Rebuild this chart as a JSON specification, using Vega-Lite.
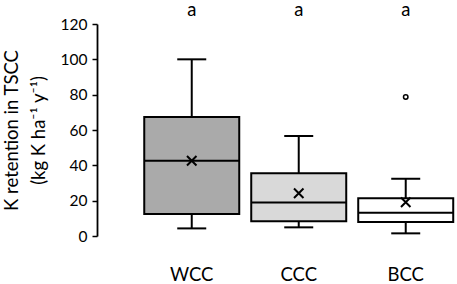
{
  "$schema": "https://vega.github.io/schema/vega-lite/v6.json",
  "width": 358,
  "height": 212,
  "autosize": "none",
  "padding": {"left": 97, "top": 24, "right": 2, "bottom": 48},
  "background": "white",
  "config": {
    "view": {"stroke": null},
    "font": "Lato",
    "axis": {"grid": false},
    "axisY": {"labelOverlap": false, "tickCount": 7}
  },
  "datasets": {
    "boxes": [
      {"group": "WCC", "lower": 4.3, "q1": 12.4, "median": 42.6, "q3": 67.3, "upper": 100, "mean": 42.6, "letter": "a"},
      {"group": "CCC", "lower": 4.9, "q1": 8.3, "median": 18.9, "q3": 35.5, "upper": 56.6, "mean": 24.2, "letter": "a"},
      {"group": "BCC", "lower": 1.5, "q1": 7.9, "median": 13.2, "q3": 21.3, "upper": 32.4, "mean": 19.1, "letter": "a"}
    ],
    "outliers": [
      {"group": "BCC", "value": 78.7}
    ]
  },
  "data": {"name": "boxes"},
  "encoding": {
    "x": {
      "field": "group",
      "type": "nominal",
      "scale": {"type": "band", "domain": ["WCC", "CCC", "BCC"], "paddingInner": 0.079, "paddingOuter": 0.2125, "align": 1},
      "axis": {"title": null, "domain": false, "ticks": false, "labelPadding": 29, "labelFontSize": 18.5, "labelColor": "black", "labelAngle": 0}
    }
  },
  "layer": [
    {
      "mark": {"type": "rule", "color": "black", "strokeWidth": 2},
      "encoding": {
        "y": {
          "field": "lower", "type": "quantitative",
          "scale": {"domain": [0, 120], "nice": false},
          "axis": {
            "values": [0, 20, 40, 60, 80, 100, 120],
            "tickCount": 7,
            "labelOverlap": false,
            "title": ["K retention in TSCC", "(kg K ha⁻¹ y⁻¹)"],
            "titleFontSize": 18.5,
            "titleFontWeight": "normal",
            "titleLineHeight": 27,
            "titlePadding": 12,
            "titleColor": "black",
            "labelFontSize": 15.5,
            "labelColor": "black",
            "labelPadding": 5,
            "tickSize": 5,
            "tickColor": "black",
            "tickWidth": 1.5,
            "domainColor": "black",
            "domainWidth": 1.8
          }
        },
        "y2": {"field": "upper"}
      }
    },
    {
      "mark": {"type": "tick", "color": "black", "size": 29, "thickness": 2, "opacity": 1},
      "encoding": {"y": {"field": "lower", "type": "quantitative", "axis": {"values": [0, 20, 40, 60, 80, 100, 120]}}}
    },
    {
      "mark": {"type": "tick", "color": "black", "size": 29, "thickness": 2, "opacity": 1},
      "encoding": {"y": {"field": "upper", "type": "quantitative", "axis": {"values": [0, 20, 40, 60, 80, 100, 120]}}}
    },
    {
      "mark": {"type": "bar", "size": 95, "stroke": "black", "strokeWidth": 2, "opacity": 1},
      "encoding": {
        "y": {"field": "q1", "type": "quantitative", "axis": {"values": [0, 20, 40, 60, 80, 100, 120]}},
        "y2": {"field": "q3"},
        "fill": {
          "field": "group", "type": "nominal",
          "scale": {"domain": ["WCC", "CCC", "BCC"], "range": ["#aaaaaa", "#d9d9d9", "#ffffff"]},
          "legend": null
        }
      }
    },
    {
      "mark": {"type": "tick", "color": "black", "size": 95, "thickness": 2, "opacity": 1},
      "encoding": {"y": {"field": "median", "type": "quantitative", "axis": {"values": [0, 20, 40, 60, 80, 100, 120]}}}
    },
    {
      "mark": {"type": "point", "shape": "M-1,-1L1,1M-1,1L1,-1", "size": 90, "filled": false, "color": "black", "strokeWidth": 2, "opacity": 1},
      "encoding": {"y": {"field": "mean", "type": "quantitative", "axis": {"values": [0, 20, 40, 60, 80, 100, 120]}}}
    },
    {
      "mark": {"type": "text", "fontSize": 18.5, "color": "black", "baseline": "alphabetic"},
      "encoding": {
        "y": {"datum": 124.5, "type": "quantitative", "axis": {"values": [0, 20, 40, 60, 80, 100, 120]}},
        "text": {"field": "letter"}
      }
    },
    {
      "data": {"name": "outliers"},
      "mark": {"type": "point", "shape": "circle", "size": 20, "filled": false, "color": "black", "strokeWidth": 1.5, "opacity": 1},
      "encoding": {"y": {"field": "value", "type": "quantitative", "axis": {"values": [0, 20, 40, 60, 80, 100, 120]}}}
    }
  ]
}
